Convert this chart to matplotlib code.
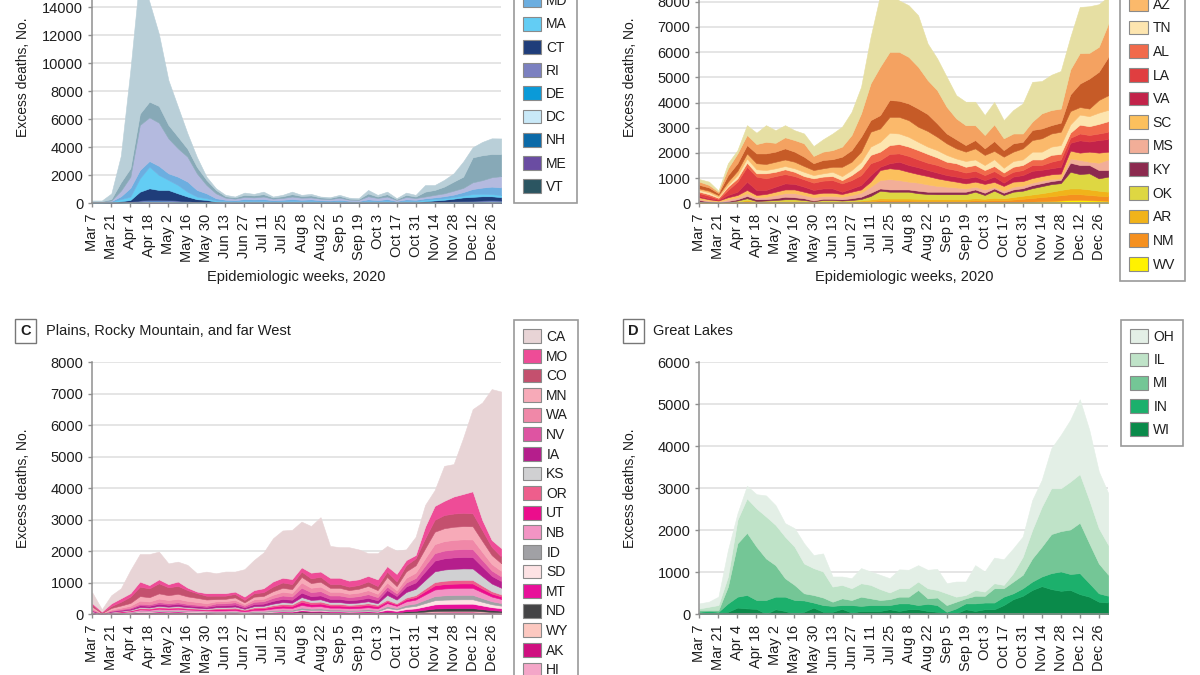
import numpy as np
import matplotlib
matplotlib.use('Agg')
import matplotlib.pyplot as plt
from matplotlib.patches import Patch

plt.rcParams['font.family'] = ['Liberation Sans', 'DejaVu Sans']
plt.rcParams['font.size'] = 10

# epidemiologic weeks Mar 7 .. Jan 2 (44 weeks), ticks every 2 weeks
week_labels = ['Mar 7', 'Mar 21', 'Apr 4', 'Apr 18', 'May 2', 'May 16', 'May 30',
               'Jun 13', 'Jun 27', 'Jul 11', 'Jul 25', 'Aug 8', 'Aug 22', 'Sep 5',
               'Sep 19', 'Oct 3', 'Oct 17', 'Oct 31', 'Nov 14', 'Nov 28', 'Dec 12', 'Dec 26']

# ---- A: Mideast and New England (legend order = top of stack first)
a_states = ['NY', 'NJ', 'PA', 'MD', 'MA', 'CT', 'RI', 'DE', 'DC', 'NH', 'ME', 'VT']
a_NY = [50,50,400,1900,7000,10000,7140,5150,3200,2140,1100,700,230,120,100,60,160,110,180,60,
        100,180,80,110,60,50,80,70,60,250,120,180,60,160,120,470,350,480,590,1080,720,950,1120,1120]
a_NJ = [30,30,100,600,600,800,1120,1190,960,830,570,460,360,240,100,90,150,140,170,90,
        120,170,120,140,90,80,120,70,60,200,100,170,60,150,100,350,350,480,650,800,1780,1780,1660,1570]
a_PA = [20,20,50,400,800,3220,3120,3090,2500,2030,1780,1190,600,350,150,110,150,140,180,110,
        130,180,150,140,110,100,150,80,80,220,160,180,80,170,130,130,180,210,280,300,480,530,670,810]
a_MD = [20,20,30,200,620,590,400,650,470,590,720,470,350,160,100,100,120,130,130,100,
        100,130,100,120,100,90,100,80,70,120,90,120,60,110,100,100,120,150,170,250,360,440,540,540]
a_MA = [40,40,60,150,240,960,1550,1070,720,600,350,190,120,80,70,50,90,70,80,50,
        70,80,70,80,50,50,70,40,40,70,60,80,40,70,60,100,100,100,120,130,200,180,150,150]
a_CT = [10,10,20,70,120,630,820,700,720,510,330,190,160,60,30,30,40,40,40,30,
        40,40,40,40,30,30,40,30,20,40,30,50,30,50,50,80,110,140,190,260,280,300,280,240]
a_RI = [9,9,12,24,36,60,75,75,69,60,45,30,24,18,15,12,15,12,15,12,
        12,15,12,12,12,9,12,9,9,15,12,15,9,15,12,21,27,33,42,48,54,60,66,60]
a_DE = [5,5,6,12,18,30,38,38,35,30,23,15,12,9,8,6,8,6,8,6,
        6,8,6,6,6,5,6,5,5,8,6,8,5,8,6,11,14,17,21,24,27,30,33,30]
a_DC = [5,5,8,12,16,28,36,40,33,30,22,16,14,12,10,9,10,8,9,8,
        8,9,8,8,7,6,8,6,6,9,7,9,6,9,7,12,15,18,22,25,28,32,34,31]
a_NH = [4,4,6,10,18,30,38,36,35,28,23,15,12,9,8,6,8,6,8,6,
        6,8,6,6,6,5,6,5,5,8,6,8,5,8,6,11,14,17,21,24,27,30,33,30]
a_ME = [5,5,6,12,18,30,38,38,35,30,23,15,12,9,8,6,8,6,8,6,
        6,8,6,6,6,5,6,5,5,8,6,8,5,8,6,11,14,17,21,24,27,30,33,30]
a_VT = [3,3,4,8,12,20,25,25,23,20,15,10,8,6,5,4,5,4,5,4,
        4,5,4,4,4,3,4,3,3,5,4,5,3,5,4,7,9,11,14,16,18,20,22,20]
a_colors = ['#b9cfd8', '#87a9b7', '#b4badf', '#6caee0', '#63cdf4', '#1f3d7a',
            '#7b80c0', '#0a9ad8', '#c9e9f8', '#0b6aa8', '#6a4ca2', '#2b5561']

# ---- B: Southeast and Southwest
b_states = ['TX', 'FL', 'GA', 'AZ', 'TN', 'AL', 'LA', 'VA', 'SC', 'MS', 'KY', 'OK', 'AR', 'NM', 'WV']
b_TX = [100,130,40,200,130,390,450,660,500,480,390,390,390,490,660,790,920,1050,1840,2830,
        2340,2040,2050,2040,1450,1260,1190,920,930,930,790,890,720,930,1190,1580,1280,1400,1490,1280,
        1830,1850,1690,1070]
b_FL = [130,100,60,270,390,400,370,460,350,440,460,530,290,330,360,400,600,930,1460,1920,
        1910,1940,1850,1660,1350,1320,1060,830,790,590,530,660,470,390,330,330,600,600,560,990,
        1210,1020,990,1320]
b_GA = [140,130,70,260,300,330,390,420,400,440,400,370,270,330,300,400,460,590,460,530,
        670,640,660,720,670,530,390,360,260,330,260,390,260,330,260,400,390,330,360,660,
        930,1190,1120,1520]
b_AZ = [60,60,70,130,170,200,240,240,260,260,260,230,200,200,200,370,330,400,590,530,
        630,660,660,600,620,530,460,400,370,440,400,330,440,370,440,460,530,520,530,530,
        300,300,500,580]
b_TN = [70,80,40,70,130,170,160,130,140,130,140,170,130,130,170,160,200,260,330,390,
        490,420,390,330,290,290,270,190,230,220,200,270,190,230,220,310,310,330,350,330,
        400,400,450,450]
b_AL = [60,60,50,130,130,160,130,200,170,190,170,130,170,160,160,130,200,270,330,330,
        350,370,370,370,350,300,260,270,230,230,200,200,160,200,200,220,220,270,220,200,
        350,350,380,420]
b_LA = [110,100,40,200,400,590,530,460,420,370,310,290,290,310,330,330,330,390,470,270,
        370,330,360,310,290,300,270,260,230,230,200,220,240,190,200,230,190,260,290,200,
        270,260,260,290]
b_VA = [50,40,20,90,130,330,200,160,200,240,220,200,160,170,170,90,130,180,260,130,
        200,300,270,270,240,230,200,200,200,200,150,210,130,200,240,290,250,240,270,310,
        490,400,500,500]
b_SC = [70,50,40,80,90,130,90,110,130,150,150,130,130,130,130,110,130,130,200,400,
        430,430,390,340,330,300,260,230,200,200,220,200,190,200,180,180,180,190,190,310,
        290,400,400,310]
b_MS = [40,40,30,70,80,110,80,90,130,140,160,130,130,110,110,100,130,160,240,330,
        410,370,310,320,290,230,200,170,130,110,130,60,80,110,100,100,100,80,60,170,
        200,130,290,420]
b_KY = [50,30,15,40,50,90,70,60,70,100,80,70,25,50,50,50,70,90,130,90,
        90,90,90,100,90,100,100,100,100,90,90,90,90,90,100,120,120,120,130,360,
        360,330,330,260]
b_OK = [30,15,10,10,40,70,20,30,40,60,60,40,15,40,40,30,40,60,140,300,
        270,270,270,220,200,190,190,190,190,260,150,280,130,210,200,250,280,300,270,660,
        570,640,490,600]
b_AR = [20,10,5,15,25,50,25,30,35,40,40,35,25,35,35,30,35,45,60,80,
        80,80,80,80,70,70,70,70,70,80,70,90,80,100,120,140,150,180,210,230,
        230,220,200,180]
b_NM = [20,10,5,15,30,55,30,35,35,40,40,35,30,35,35,35,35,45,60,70,
        70,70,70,70,70,70,70,70,70,80,70,90,80,100,120,140,170,190,210,230,
        220,210,190,180]
b_WV = [10,5,5,10,15,25,15,15,20,20,20,20,15,20,20,15,20,20,30,50,
        40,40,40,30,30,30,30,30,30,40,40,40,40,50,60,70,80,90,110,130,
        140,120,110,100]
b_colors = ['#e6dfa3', '#f4a261', '#c65b27', '#fbb96b', '#fde5af', '#f16a4b', '#e03e40',
            '#c2234a', '#fcc05d', '#f2ae98', '#8c2a4f', '#ded742', '#f1b31a', '#f5901f', '#fff200']

# ---- C: Plains, Rocky Mountain, and far West
c_states = ['CA', 'MO', 'CO', 'MN', 'WA', 'NV', 'IA', 'KS', 'OR', 'UT', 'NB', 'ID',
            'SD', 'MT', 'ND', 'WY', 'AK', 'HI']
c_CA = [340,75,260,315,730,875,985,880,660,630,720,580,685,630,685,635,870,955,1135,1370,
        1500,1560,1450,1480,1725,1010,970,1060,950,720,830,640,740,340,580,690,500,1110,1030,1780,
        2610,3720,4790,4970]
c_MO = [50,35,85,110,110,160,105,125,100,140,80,50,80,80,80,75,105,100,125,160,
        150,160,135,180,165,200,200,190,180,180,210,175,240,160,105,370,440,450,540,600,
        700,330,220,270]
c_CO = [60,10,60,120,200,300,280,320,250,250,200,150,120,110,100,110,80,110,120,150,
        170,160,170,150,160,120,120,110,120,140,130,170,150,200,220,320,380,420,420,420,
        410,340,260,210]
c_MN = [60,10,51,70,90,145,136,166,152,162,142,130,118,72,74,80,56,84,87,110,
        126,120,178,149,155,126,126,116,122,135,116,178,134,204,233,314,393,410,417,420,
        419,350,282,243]
c_WA = [41,7,35,48,61,99,93,113,104,110,97,88,80,67,69,75,53,78,81,102,
        118,112,166,139,144,118,118,108,113,126,108,130,98,150,171,230,288,300,306,308,
        307,256,207,178]
c_NV = [19,3,16,22,29,46,44,53,49,52,46,42,38,62,64,70,49,73,75,95,
        109,104,154,129,134,109,109,100,105,117,100,107,80,122,140,188,236,246,250,252,
        251,210,169,146]
c_IA = [24,4,20,28,36,58,54,66,61,65,57,52,47,58,59,64,45,67,70,88,
        101,96,142,119,124,101,101,92,97,108,92,154,116,177,202,272,341,355,361,364,
        363,303,244,211]
c_KS = [12,2,10,14,18,29,27,33,30,32,28,26,23,34,34,37,26,39,41,51,
        59,56,83,69,72,59,59,54,57,63,54,154,116,177,202,272,341,355,361,364,
        363,303,244,211]
c_OR = [10,2,8,11,14,23,22,27,24,26,23,21,19,29,29,32,23,34,35,44,
        50,48,71,59,62,50,50,46,49,54,46,47,36,54,62,84,105,109,111,112,
        112,93,75,65]
c_UT = [10,2,8,11,14,23,22,27,24,26,23,21,19,38,39,43,30,45,46,58,
        67,64,95,79,82,67,67,62,65,72,62,59,45,68,78,105,131,137,139,140,
        140,117,94,81]
c_NB = [17,3,14,20,25,41,38,47,43,45,40,36,33,34,34,37,26,39,41,51,
        59,56,83,69,72,59,59,54,57,63,54,95,71,109,124,167,210,218,222,224,
        223,186,150,130]
c_ID = [7,1,6,8,11,17,16,20,18,20,17,16,14,24,25,27,19,28,29,37,
        42,40,59,50,52,42,42,39,41,45,39,59,45,68,78,105,131,137,139,140,
        140,117,94,81]
c_SD = [7,1,6,8,11,17,16,20,18,20,17,16,14,10,10,11,8,11,12,15,
        17,16,24,20,21,17,17,15,16,18,15,59,45,68,78,105,131,137,139,140,
        140,117,94,81]
c_MT = [7,1,6,8,11,17,16,20,18,20,17,16,14,14,15,16,11,17,17,22,
        25,24,36,30,31,25,25,23,24,27,23,59,45,68,78,105,131,137,139,140,
        140,117,94,81]
c_ND = [7,1,6,8,11,17,16,20,18,20,17,16,14,10,10,11,8,11,12,15,
        17,16,24,20,21,17,17,15,16,18,15,36,27,41,47,63,79,82,83,84,
        84,70,56,49]
c_WY = [5,1,4,6,7,12,11,13,12,13,11,10,9,10,10,11,8,11,12,15,
        17,16,24,20,21,17,17,15,16,18,15,12,9,14,16,21,26,27,28,28,
        28,23,19,16]
c_AK = [7,1,6,8,11,17,16,20,18,20,17,16,14,10,10,11,8,11,12,15,
        17,16,24,20,21,17,17,15,16,18,15,12,9,14,16,21,26,27,28,28,
        28,23,19,16]
c_HI = [7,1,6,8,11,17,16,20,18,20,17,16,14,10,10,11,8,11,12,15,
        17,16,24,20,21,17,17,15,16,18,15,24,18,27,31,42,52,55,56,56,
        56,47,38,32]
c_colors = ['#e8d4d6', '#ee4c97', '#c4506e', '#f7aab8', '#f088a8', '#de54a2', '#b51e8c',
            '#d0d0d2', '#ee5e8c', '#ec0d8c', '#f294c4', '#a1a1a5', '#fde2e4', '#e8109a',
            '#444446', '#fcc8c0', '#cf0f80', '#f4a6c8']

# ---- D: Great Lakes
d_states = ['OH', 'IL', 'MI', 'IN', 'WI']
d_OH = [120,120,200,630,150,300,340,500,470,320,440,480,310,430,240,200,240,360,320,340,
        340,450,440,390,440,500,240,360,320,590,480,610,610,590,480,710,640,950,1270,1470,
        1780,1670,1350,1230]
d_IL = [40,80,120,240,560,820,910,1000,960,990,910,710,640,620,360,320,280,320,320,260,
        160,200,200,200,240,180,280,120,80,140,100,120,80,200,430,680,950,1090,1020,1140,
        1160,1030,840,710]
d_MI = [40,20,40,400,1270,1480,1270,990,750,440,360,170,180,180,100,160,120,220,160,120,
        140,160,160,360,130,180,160,160,120,180,160,340,200,280,320,550,710,930,960,1060,
        1200,950,710,500]
d_IN = [20,40,20,200,260,320,210,330,300,340,330,270,120,160,140,90,180,120,140,140,
        100,180,140,100,170,160,45,115,140,180,160,160,200,140,180,200,230,380,460,380,
        500,320,200,160]
d_WI = [40,40,40,60,160,140,130,10,120,80,10,60,160,60,60,130,40,80,80,80,
        120,80,120,120,80,60,15,25,120,80,120,120,220,360,440,580,670,600,560,580,
        480,420,300,280]
d_colors = ['#e3efe6', '#bfe3c8', '#74c696', '#1cb06c', '#0a8a4a']

panel_a = [a_NY, a_NJ, a_PA, a_MD, a_MA, a_CT, a_RI, a_DE, a_DC, a_NH, a_ME, a_VT]
panel_b = [b_TX, b_FL, b_GA, b_AZ, b_TN, b_AL, b_LA, b_VA, b_SC, b_MS, b_KY, b_OK, b_AR, b_NM, b_WV]
panel_c = [c_CA, c_MO, c_CO, c_MN, c_WA, c_NV, c_IA, c_KS, c_OR, c_UT, c_NB, c_ID,
           c_SD, c_MT, c_ND, c_WY, c_AK, c_HI]
panel_d = [d_OH, d_IL, d_MI, d_IN, d_WI]

W, H = 1200, 675
fig = plt.figure(figsize=(12, 6.75), dpi=100)
x = np.arange(44)
grey = '#8f8f8f'
txt = '#1e1e1e'


def make_panel(left, base, series, colors, ymax, yticks, xlabel):
    # left / base in pixels from the top-left corner; every axes is 252 px tall
    ax = fig.add_axes([left / W, (H - base) / H, 408.9 / W, 252 / H])
    # stack bottom first, so reverse the legend order
    ax.stackplot(x, *series[::-1], colors=colors[::-1], edgecolor='face', linewidth=0.4)
    ax.set_xlim(0, 43)
    ax.set_ylim(0, ymax)
    ax.set_yticks(yticks)
    ax.set_xticks(range(0, 43, 2))
    ax.set_xticklabels(week_labels, rotation=90)
    ax.grid(axis='y', color='#e0e0e0', lw=1.2)
    ax.set_axisbelow(True)
    for s in ['top', 'right']:
        ax.spines[s].set_visible(False)
    for s in ['left', 'bottom']:
        ax.spines[s].set_color(grey)
        ax.spines[s].set_linewidth(1.1)
    ax.tick_params(colors=grey, labelcolor=txt, length=3, width=1, labelsize=10.5)
    ax.tick_params(axis='x', pad=4.5)
    ax.set_ylabel('Excess deaths, No.', fontsize=10, color=txt)
    ax.yaxis.set_label_coords(-0.152, 0.5)
    if xlabel:
        ax.set_xlabel('Epidemiologic weeks, 2020', fontsize=10.5, color=txt)
        ax.xaxis.set_label_coords(0.5, -0.265)
    return ax


def add_legend(states, colors, anchor, loc, spacing):
    handles = [Patch(facecolor=c, edgecolor='#8a8a8a', lw=0.8) for c in colors]
    leg = fig.legend(handles, states, loc=loc, bbox_to_anchor=anchor,
                     bbox_transform=fig.transFigure, borderaxespad=0, frameon=True,
                     fancybox=False, edgecolor='#9a9a9a', framealpha=1, fontsize=10,
                     handlelength=1.3, handleheight=1.15, handletextpad=0.38,
                     labelspacing=spacing, borderpad=0.68)
    leg.get_frame().set_linewidth(1.2)
    for t in leg.get_texts():
        t.set_color(txt)


make_panel(92.3, 203.3, panel_a, a_colors, 18000, range(0, 14001, 2000), True)
make_panel(699.4, 203.3, panel_b, b_colors, 10000, range(0, 8001, 1000), True)
make_panel(92.3, 614.3, panel_c, c_colors, 8000, range(0, 8001, 1000), False)
make_panel(699.4, 614.3, panel_d, d_colors, 6000, range(0, 6001, 1000), False)

add_legend(a_states, a_colors, (513.5 / W, (H - 203.3) / H), 'lower left', 0.62)
add_legend(b_states, b_colors, (1120 / W, (H - 281) / H), 'lower left', 0.65)
add_legend(c_states, c_colors, (513.5 / W, (H - 320) / H), 'upper left', 0.36)
add_legend(d_states, d_colors, (1120.5 / W, (H - 320) / H), 'upper left', 0.62)

# panel tags and titles for the bottom row
box = dict(boxstyle='square,pad=0.35', fc='white', ec='#777777', lw=1)
fig.text(25.7 / W, (H - 331) / H, 'C', ha='center', va='center', fontsize=10.5,
         fontweight='bold', color=txt, bbox=box)
fig.text(46 / W, (H - 331) / H, 'Plains, Rocky Mountain, and far West', ha='left',
         va='center', fontsize=10.5, color=txt)
fig.text(633.2 / W, (H - 331) / H, 'D', ha='center', va='center', fontsize=10.5,
         fontweight='bold', color=txt, bbox=box)
fig.text(653 / W, (H - 331) / H, 'Great Lakes', ha='left', va='center', fontsize=10.5, color=txt)

fig.savefig('out.png', dpi=100)
